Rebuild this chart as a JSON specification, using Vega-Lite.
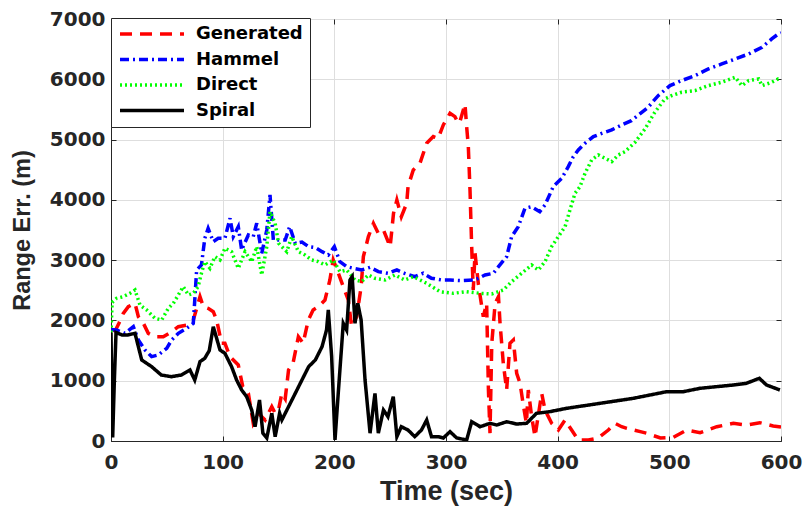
{
  "$schema": "https://vega.github.io/schema/vega-lite/v6.json",
  "width": 670,
  "height": 422,
  "autosize": {"type": "none"},
  "padding": {"left": 111, "top": 19, "right": 24, "bottom": 66},
  "background": "white",
  "config": {"view": {"stroke": "#262626", "strokeWidth": 1}, "font": "DejaVu Sans"},
  "datasets": {
    "d": [
      {"t":3,"v":1800,"s":"Generated"},{"t":7,"v":1950,"s":"Generated"},{"t":11,"v":2117,"s":"Generated"},{"t":15.5,"v":2228,"s":"Generated"},{"t":21.5,"v":2284,"s":"Generated"},{"t":24.5,"v":2062,"s":"Generated"},{"t":29,"v":1952,"s":"Generated"},{"t":33.4,"v":1786,"s":"Generated"},{"t":39.4,"v":1730,"s":"Generated"},{"t":46.8,"v":1730,"s":"Generated"},{"t":54.3,"v":1813,"s":"Generated"},{"t":60.3,"v":1896,"s":"Generated"},{"t":67.8,"v":1923,"s":"Generated"},{"t":73.7,"v":2007,"s":"Generated"},{"t":79.7,"v":2394,"s":"Generated"},{"t":82.7,"v":2228,"s":"Generated"},{"t":87,"v":2200,"s":"Generated"},{"t":91.6,"v":2145,"s":"Generated"},{"t":94.6,"v":2007,"s":"Generated"},{"t":99,"v":1620,"s":"Generated"},{"t":102,"v":1620,"s":"Generated"},{"t":106.6,"v":1399,"s":"Generated"},{"t":114,"v":1261,"s":"Generated"},{"t":118,"v":901,"s":"Generated"},{"t":123,"v":790,"s":"Generated"},{"t":127.4,"v":293,"s":"Generated"},{"t":132,"v":459,"s":"Generated"},{"t":138,"v":348,"s":"Generated"},{"t":144,"v":569,"s":"Generated"},{"t":147,"v":459,"s":"Generated"},{"t":150,"v":514,"s":"Generated"},{"t":153,"v":790,"s":"Generated"},{"t":156,"v":700,"s":"Generated"},{"t":159,"v":1178,"s":"Generated"},{"t":163,"v":1289,"s":"Generated"},{"t":167.8,"v":1730,"s":"Generated"},{"t":172,"v":1620,"s":"Generated"},{"t":176.7,"v":2007,"s":"Generated"},{"t":181,"v":2173,"s":"Generated"},{"t":185.7,"v":2228,"s":"Generated"},{"t":191.6,"v":2339,"s":"Generated"},{"t":196,"v":2671,"s":"Generated"},{"t":199,"v":3003,"s":"Generated"},{"t":203.6,"v":2782,"s":"Generated"},{"t":208,"v":2560,"s":"Generated"},{"t":212.5,"v":2339,"s":"Generated"},{"t":215.5,"v":1896,"s":"Generated"},{"t":220,"v":2062,"s":"Generated"},{"t":224,"v":2560,"s":"Generated"},{"t":226,"v":3058,"s":"Generated"},{"t":230.5,"v":3390,"s":"Generated"},{"t":235,"v":3611,"s":"Generated"},{"t":239.4,"v":3445,"s":"Generated"},{"t":244,"v":3500,"s":"Generated"},{"t":250,"v":3224,"s":"Generated"},{"t":253,"v":3777,"s":"Generated"},{"t":256,"v":3998,"s":"Generated"},{"t":260,"v":3721,"s":"Generated"},{"t":264.8,"v":3943,"s":"Generated"},{"t":266,"v":4219,"s":"Generated"},{"t":270.7,"v":4496,"s":"Generated"},{"t":276.7,"v":4607,"s":"Generated"},{"t":282.7,"v":4938,"s":"Generated"},{"t":288.6,"v":5049,"s":"Generated"},{"t":293,"v":5020,"s":"Generated"},{"t":297.6,"v":5242,"s":"Generated"},{"t":303.6,"v":5436,"s":"Generated"},{"t":308,"v":5380,"s":"Generated"},{"t":311,"v":5270,"s":"Generated"},{"t":312.5,"v":5300,"s":"Generated"},{"t":317,"v":5590,"s":"Generated"},{"t":318.5,"v":5214,"s":"Generated"},{"t":320,"v":4883,"s":"Generated"},{"t":321.5,"v":4164,"s":"Generated"},{"t":323,"v":3224,"s":"Generated"},{"t":324.4,"v":2505,"s":"Generated"},{"t":326,"v":3116,"s":"Generated"},{"t":329,"v":2600,"s":"Generated"},{"t":333.4,"v":2062,"s":"Generated"},{"t":336.4,"v":2284,"s":"Generated"},{"t":338,"v":846,"s":"Generated"},{"t":339.4,"v":130,"s":"Generated"},{"t":341,"v":1620,"s":"Generated"},{"t":344,"v":2284,"s":"Generated"},{"t":347,"v":2394,"s":"Generated"},{"t":348.4,"v":1952,"s":"Generated"},{"t":351.3,"v":1289,"s":"Generated"},{"t":354.3,"v":846,"s":"Generated"},{"t":357.3,"v":1620,"s":"Generated"},{"t":360.3,"v":1675,"s":"Generated"},{"t":363.3,"v":1123,"s":"Generated"},{"t":366.3,"v":957,"s":"Generated"},{"t":369,"v":625,"s":"Generated"},{"t":372,"v":293,"s":"Generated"},{"t":373.7,"v":846,"s":"Generated"},{"t":376.7,"v":403,"s":"Generated"},{"t":379.7,"v":72,"s":"Generated"},{"t":385.7,"v":790,"s":"Generated"},{"t":388.7,"v":514,"s":"Generated"},{"t":394.6,"v":293,"s":"Generated"},{"t":400.6,"v":182,"s":"Generated"},{"t":406.6,"v":348,"s":"Generated"},{"t":412.5,"v":182,"s":"Generated"},{"t":418.5,"v":17,"s":"Generated"},{"t":427.5,"v":17,"s":"Generated"},{"t":436.4,"v":50,"s":"Generated"},{"t":445.4,"v":182,"s":"Generated"},{"t":451.3,"v":293,"s":"Generated"},{"t":457.3,"v":237,"s":"Generated"},{"t":462,"v":210,"s":"Generated"},{"t":474,"v":155,"s":"Generated"},{"t":480,"v":127,"s":"Generated"},{"t":492,"v":50,"s":"Generated"},{"t":503.6,"v":61,"s":"Generated"},{"t":515.5,"v":182,"s":"Generated"},{"t":527.5,"v":138,"s":"Generated"},{"t":542.5,"v":237,"s":"Generated"},{"t":557.3,"v":293,"s":"Generated"},{"t":569,"v":265,"s":"Generated"},{"t":581,"v":304,"s":"Generated"},{"t":593,"v":249,"s":"Generated"},{"t":600,"v":230,"s":"Generated"},

      {"t":0,"v":1850,"s":"Hammel"},{"t":5,"v":1841,"s":"Hammel"},{"t":12.5,"v":1786,"s":"Hammel"},{"t":20,"v":1896,"s":"Hammel"},{"t":24.5,"v":1675,"s":"Hammel"},{"t":30.4,"v":1510,"s":"Hammel"},{"t":36.4,"v":1399,"s":"Hammel"},{"t":42.4,"v":1427,"s":"Hammel"},{"t":49.9,"v":1538,"s":"Hammel"},{"t":54.3,"v":1675,"s":"Hammel"},{"t":60.3,"v":1786,"s":"Hammel"},{"t":67.8,"v":1869,"s":"Hammel"},{"t":73.7,"v":1952,"s":"Hammel"},{"t":76.7,"v":2837,"s":"Hammel"},{"t":81,"v":2920,"s":"Hammel"},{"t":84,"v":3362,"s":"Hammel"},{"t":87,"v":3528,"s":"Hammel"},{"t":91.6,"v":3307,"s":"Hammel"},{"t":96,"v":3362,"s":"Hammel"},{"t":102,"v":3362,"s":"Hammel"},{"t":106.6,"v":3694,"s":"Hammel"},{"t":109.5,"v":3390,"s":"Hammel"},{"t":114,"v":3555,"s":"Hammel"},{"t":117,"v":3169,"s":"Hammel"},{"t":123,"v":3418,"s":"Hammel"},{"t":127.4,"v":3390,"s":"Hammel"},{"t":130.5,"v":3611,"s":"Hammel"},{"t":135,"v":3114,"s":"Hammel"},{"t":139.5,"v":3500,"s":"Hammel"},{"t":142.4,"v":4081,"s":"Hammel"},{"t":145.4,"v":3335,"s":"Hammel"},{"t":150,"v":3335,"s":"Hammel"},{"t":156,"v":3335,"s":"Hammel"},{"t":160,"v":3555,"s":"Hammel"},{"t":165,"v":3280,"s":"Hammel"},{"t":171,"v":3300,"s":"Hammel"},{"t":177,"v":3224,"s":"Hammel"},{"t":183,"v":3210,"s":"Hammel"},{"t":189,"v":3141,"s":"Hammel"},{"t":194.6,"v":3086,"s":"Hammel"},{"t":200,"v":3224,"s":"Hammel"},{"t":205,"v":2975,"s":"Hammel"},{"t":211,"v":2892,"s":"Hammel"},{"t":217,"v":2865,"s":"Hammel"},{"t":224.5,"v":2837,"s":"Hammel"},{"t":232,"v":2881,"s":"Hammel"},{"t":239.4,"v":2809,"s":"Hammel"},{"t":248,"v":2782,"s":"Hammel"},{"t":256,"v":2837,"s":"Hammel"},{"t":263,"v":2782,"s":"Hammel"},{"t":272,"v":2726,"s":"Hammel"},{"t":279.6,"v":2782,"s":"Hammel"},{"t":287,"v":2700,"s":"Hammel"},{"t":296,"v":2671,"s":"Hammel"},{"t":303.6,"v":2671,"s":"Hammel"},{"t":314,"v":2660,"s":"Hammel"},{"t":326,"v":2671,"s":"Hammel"},{"t":335,"v":2754,"s":"Hammel"},{"t":342.4,"v":2782,"s":"Hammel"},{"t":347,"v":2892,"s":"Hammel"},{"t":354.3,"v":3058,"s":"Hammel"},{"t":358.8,"v":3390,"s":"Hammel"},{"t":364.7,"v":3555,"s":"Hammel"},{"t":370.7,"v":3860,"s":"Hammel"},{"t":376.7,"v":3887,"s":"Hammel"},{"t":384,"v":3804,"s":"Hammel"},{"t":388.7,"v":3915,"s":"Hammel"},{"t":396,"v":4219,"s":"Hammel"},{"t":403.6,"v":4358,"s":"Hammel"},{"t":409.5,"v":4551,"s":"Hammel"},{"t":414,"v":4717,"s":"Hammel"},{"t":418.5,"v":4828,"s":"Hammel"},{"t":424.5,"v":4938,"s":"Hammel"},{"t":432,"v":5049,"s":"Hammel"},{"t":439.5,"v":5104,"s":"Hammel"},{"t":448.4,"v":5160,"s":"Hammel"},{"t":457.3,"v":5242,"s":"Hammel"},{"t":466,"v":5314,"s":"Hammel"},{"t":481,"v":5536,"s":"Hammel"},{"t":490,"v":5729,"s":"Hammel"},{"t":500.6,"v":5895,"s":"Hammel"},{"t":511,"v":5978,"s":"Hammel"},{"t":523,"v":6061,"s":"Hammel"},{"t":535,"v":6171,"s":"Hammel"},{"t":547,"v":6254,"s":"Hammel"},{"t":559,"v":6337,"s":"Hammel"},{"t":571,"v":6420,"s":"Hammel"},{"t":583,"v":6531,"s":"Hammel"},{"t":591.7,"v":6669,"s":"Hammel"},{"t":597.6,"v":6752,"s":"Hammel"},{"t":600,"v":6770,"s":"Hammel"},

      {"t":0,"v":1800,"s":"Direct"},{"t":1,"v":2300,"s":"Direct"},{"t":5,"v":2367,"s":"Direct"},{"t":11,"v":2394,"s":"Direct"},{"t":17,"v":2450,"s":"Direct"},{"t":21.5,"v":2505,"s":"Direct"},{"t":26,"v":2256,"s":"Direct"},{"t":32,"v":2173,"s":"Direct"},{"t":39.4,"v":2035,"s":"Direct"},{"t":45.4,"v":2007,"s":"Direct"},{"t":51.3,"v":2201,"s":"Direct"},{"t":55.8,"v":2284,"s":"Direct"},{"t":60.3,"v":2422,"s":"Direct"},{"t":64.7,"v":2560,"s":"Direct"},{"t":69.3,"v":2422,"s":"Direct"},{"t":73.7,"v":2450,"s":"Direct"},{"t":78,"v":2560,"s":"Direct"},{"t":81,"v":2782,"s":"Direct"},{"t":84,"v":2975,"s":"Direct"},{"t":88.6,"v":2865,"s":"Direct"},{"t":93,"v":3058,"s":"Direct"},{"t":97.6,"v":3003,"s":"Direct"},{"t":102,"v":3197,"s":"Direct"},{"t":108,"v":3141,"s":"Direct"},{"t":114,"v":2865,"s":"Direct"},{"t":120,"v":3141,"s":"Direct"},{"t":126,"v":2975,"s":"Direct"},{"t":130.5,"v":3224,"s":"Direct"},{"t":135,"v":2754,"s":"Direct"},{"t":139.5,"v":3224,"s":"Direct"},{"t":142.4,"v":3804,"s":"Direct"},{"t":147,"v":3611,"s":"Direct"},{"t":150,"v":3280,"s":"Direct"},{"t":153,"v":3224,"s":"Direct"},{"t":157.4,"v":3141,"s":"Direct"},{"t":161.8,"v":3390,"s":"Direct"},{"t":167.8,"v":3141,"s":"Direct"},{"t":173.7,"v":3086,"s":"Direct"},{"t":179.7,"v":3003,"s":"Direct"},{"t":185.7,"v":2975,"s":"Direct"},{"t":191.6,"v":2920,"s":"Direct"},{"t":199,"v":3003,"s":"Direct"},{"t":205,"v":2809,"s":"Direct"},{"t":211,"v":2837,"s":"Direct"},{"t":218.5,"v":2671,"s":"Direct"},{"t":224.5,"v":2643,"s":"Direct"},{"t":230.5,"v":2754,"s":"Direct"},{"t":236.4,"v":2698,"s":"Direct"},{"t":245.4,"v":2671,"s":"Direct"},{"t":254.3,"v":2754,"s":"Direct"},{"t":263,"v":2671,"s":"Direct"},{"t":270.7,"v":2726,"s":"Direct"},{"t":282.7,"v":2616,"s":"Direct"},{"t":294.6,"v":2477,"s":"Direct"},{"t":306.5,"v":2450,"s":"Direct"},{"t":318.5,"v":2477,"s":"Direct"},{"t":330.5,"v":2450,"s":"Direct"},{"t":341,"v":2440,"s":"Direct"},{"t":351.3,"v":2505,"s":"Direct"},{"t":358.8,"v":2643,"s":"Direct"},{"t":367.8,"v":2782,"s":"Direct"},{"t":376.7,"v":2920,"s":"Direct"},{"t":382.7,"v":2837,"s":"Direct"},{"t":388.7,"v":2975,"s":"Direct"},{"t":394.6,"v":3224,"s":"Direct"},{"t":400.6,"v":3390,"s":"Direct"},{"t":406.6,"v":3555,"s":"Direct"},{"t":411,"v":3832,"s":"Direct"},{"t":415.5,"v":4109,"s":"Direct"},{"t":420,"v":4219,"s":"Direct"},{"t":424.5,"v":4441,"s":"Direct"},{"t":430.5,"v":4662,"s":"Direct"},{"t":436.4,"v":4745,"s":"Direct"},{"t":442.4,"v":4690,"s":"Direct"},{"t":448.4,"v":4634,"s":"Direct"},{"t":454.3,"v":4745,"s":"Direct"},{"t":460.3,"v":4800,"s":"Direct"},{"t":469.3,"v":4955,"s":"Direct"},{"t":478.2,"v":5176,"s":"Direct"},{"t":487,"v":5453,"s":"Direct"},{"t":496,"v":5674,"s":"Direct"},{"t":502,"v":5729,"s":"Direct"},{"t":511,"v":5785,"s":"Direct"},{"t":523,"v":5812,"s":"Direct"},{"t":535,"v":5895,"s":"Direct"},{"t":547,"v":5951,"s":"Direct"},{"t":559,"v":6033,"s":"Direct"},{"t":565,"v":5895,"s":"Direct"},{"t":571,"v":5978,"s":"Direct"},{"t":580,"v":6006,"s":"Direct"},{"t":583,"v":5895,"s":"Direct"},{"t":591.7,"v":5951,"s":"Direct"},{"t":597.6,"v":6006,"s":"Direct"},{"t":600,"v":6000,"s":"Direct"},

      {"t":0,"v":1800,"s":"Spiral"},{"t":0.8,"v":700,"s":"Spiral"},{"t":1.5,"v":60,"s":"Spiral"},{"t":3,"v":1000,"s":"Spiral"},{"t":4.5,"v":1800,"s":"Spiral"},{"t":10,"v":1758,"s":"Spiral"},{"t":15,"v":1760,"s":"Spiral"},{"t":21.5,"v":1786,"s":"Spiral"},{"t":27.5,"v":1344,"s":"Spiral"},{"t":36.4,"v":1233,"s":"Spiral"},{"t":45,"v":1095,"s":"Spiral"},{"t":54,"v":1067,"s":"Spiral"},{"t":63,"v":1095,"s":"Spiral"},{"t":70.7,"v":1178,"s":"Spiral"},{"t":75,"v":1012,"s":"Spiral"},{"t":79.7,"v":1316,"s":"Spiral"},{"t":84,"v":1372,"s":"Spiral"},{"t":88,"v":1500,"s":"Spiral"},{"t":91.6,"v":1896,"s":"Spiral"},{"t":97.6,"v":1510,"s":"Spiral"},{"t":102,"v":1455,"s":"Spiral"},{"t":108,"v":1233,"s":"Spiral"},{"t":112.5,"v":1012,"s":"Spiral"},{"t":117,"v":846,"s":"Spiral"},{"t":121.5,"v":735,"s":"Spiral"},{"t":126,"v":514,"s":"Spiral"},{"t":129,"v":237,"s":"Spiral"},{"t":133,"v":680,"s":"Spiral"},{"t":136,"v":130,"s":"Spiral"},{"t":139.5,"v":50,"s":"Spiral"},{"t":144,"v":460,"s":"Spiral"},{"t":147,"v":72,"s":"Spiral"},{"t":151,"v":460,"s":"Spiral"},{"t":153,"v":348,"s":"Spiral"},{"t":159,"v":569,"s":"Spiral"},{"t":165,"v":790,"s":"Spiral"},{"t":171,"v":1012,"s":"Spiral"},{"t":177,"v":1233,"s":"Spiral"},{"t":183,"v":1344,"s":"Spiral"},{"t":189,"v":1565,"s":"Spiral"},{"t":193,"v":1841,"s":"Spiral"},{"t":194.6,"v":2173,"s":"Spiral"},{"t":197.6,"v":1399,"s":"Spiral"},{"t":200.6,"v":17,"s":"Spiral"},{"t":203.5,"v":790,"s":"Spiral"},{"t":208,"v":1952,"s":"Spiral"},{"t":211,"v":1841,"s":"Spiral"},{"t":214,"v":2671,"s":"Spiral"},{"t":216,"v":2726,"s":"Spiral"},{"t":218.5,"v":1952,"s":"Spiral"},{"t":221,"v":2284,"s":"Spiral"},{"t":224,"v":2007,"s":"Spiral"},{"t":227.5,"v":1012,"s":"Spiral"},{"t":232,"v":130,"s":"Spiral"},{"t":236.4,"v":790,"s":"Spiral"},{"t":239.4,"v":130,"s":"Spiral"},{"t":244,"v":514,"s":"Spiral"},{"t":248,"v":403,"s":"Spiral"},{"t":252.8,"v":735,"s":"Spiral"},{"t":256,"v":72,"s":"Spiral"},{"t":260,"v":237,"s":"Spiral"},{"t":266,"v":182,"s":"Spiral"},{"t":272,"v":72,"s":"Spiral"},{"t":278,"v":182,"s":"Spiral"},{"t":282.7,"v":348,"s":"Spiral"},{"t":287,"v":72,"s":"Spiral"},{"t":293,"v":72,"s":"Spiral"},{"t":297.6,"v":50,"s":"Spiral"},{"t":303.6,"v":155,"s":"Spiral"},{"t":309.6,"v":50,"s":"Spiral"},{"t":318.5,"v":17,"s":"Spiral"},{"t":323,"v":320,"s":"Spiral"},{"t":330.5,"v":237,"s":"Spiral"},{"t":339.4,"v":293,"s":"Spiral"},{"t":345.4,"v":265,"s":"Spiral"},{"t":354.3,"v":320,"s":"Spiral"},{"t":363.3,"v":282,"s":"Spiral"},{"t":372.2,"v":293,"s":"Spiral"},{"t":381,"v":459,"s":"Spiral"},{"t":393,"v":487,"s":"Spiral"},{"t":408,"v":542,"s":"Spiral"},{"t":438,"v":625,"s":"Spiral"},{"t":467.7,"v":708,"s":"Spiral"},{"t":497.6,"v":818,"s":"Spiral"},{"t":512.5,"v":818,"s":"Spiral"},{"t":527.5,"v":874,"s":"Spiral"},{"t":557.3,"v":929,"s":"Spiral"},{"t":569,"v":957,"s":"Spiral"},{"t":580.6,"v":1040,"s":"Spiral"},{"t":587,"v":929,"s":"Spiral"},{"t":599,"v":846,"s":"Spiral"}
    ]
  },
  "data": {"name": "d"},
  "layer": [
    {
      "mark": {"type": "line", "strokeWidth": 3.5, "clip": true},
      "encoding": {
        "x": {
          "field": "t", "type": "quantitative",
          "scale": {"domain": [0, 600], "nice": false, "zero": false},
          "axis": {
            "values": [0, 100, 200, 300, 400, 500, 600], "format": "d",
            "title": "Time (sec)",
            "grid": true, "gridColor": "#dedede", "gridWidth": 1,
            "domainColor": "#262626", "tickColor": "#262626", "tickSize": -5,
            "labelFont": "DejaVu Sans", "labelFontWeight": "bold", "labelFontSize": 20, "labelColor": "#262626",
            "labelPadding": 16, "labelFlush": false,
            "titleFont": "Liberation Sans", "titleFontWeight": "bold", "titleFontSize": 27, "titleColor": "#262626",
            "titleY": 37
          }
        },
        "y": {
          "field": "v", "type": "quantitative",
          "scale": {"domain": [0, 7000], "nice": false},
          "axis": {
            "values": [0, 1000, 2000, 3000, 4000, 5000, 6000, 7000], "format": "d",
            "title": "Range Err. (m)",
            "grid": true, "gridColor": "#dedede", "gridWidth": 1,
            "domainColor": "#262626", "tickColor": "#262626", "tickSize": -5,
            "labelFont": "DejaVu Sans", "labelFontWeight": "bold", "labelFontSize": 20, "labelColor": "#262626",
            "labelPadding": 11, "labelFlush": false,
            "titleFont": "Liberation Sans", "titleFontWeight": "bold", "titleFontSize": 23.5, "titleColor": "#262626",
            "titleX": -89, "titleBaseline": "middle"
          }
        },
        "color": {
          "field": "s", "type": "nominal",
          "scale": {"domain": ["Generated", "Hammel", "Direct", "Spiral"], "range": ["#ff0000", "#0000ff", "#00ff00", "#000000"]},
          "legend": {
            "title": null, "orient": "none", "legendX": 0, "legendY": -1,
            "symbolType": "stroke", "symbolSize": 4096, "symbolStrokeWidth": 3.5,
            "labelFont": "DejaVu Sans", "labelFontWeight": "bold", "labelFontSize": 18, "labelColor": "#000000",
            "labelOffset": 10, "padding": 7, "rowPadding": 7.5, "clipHeight": 18,
            "strokeColor": "#262626", "fillColor": "white"
          }
        },
        "strokeDash": {
          "field": "s", "type": "nominal",
          "scale": {"domain": ["Generated", "Hammel", "Direct", "Spiral"], "range": [[12, 8], [9, 4, 2, 4], [2, 3], [1, 0]]}
        }
      }
    },
    {
      "mark": {"type": "point", "opacity": 0},
      "encoding": {
        "x": {"field": "t", "type": "quantitative", "axis": {"orient": "top", "values": [0, 100, 200, 300, 400, 500, 600], "labels": false, "domain": false, "grid": false, "title": null, "tickColor": "#262626", "tickSize": -5}},
        "y": {"field": "v", "type": "quantitative", "axis": {"orient": "right", "values": [0, 1000, 2000, 3000, 4000, 5000, 6000, 7000], "labels": false, "domain": false, "grid": false, "title": null, "tickColor": "#262626", "tickSize": -5}}
      }
    }
  ],
  "resolve": {"axis": {"x": "independent", "y": "independent"}}
}
